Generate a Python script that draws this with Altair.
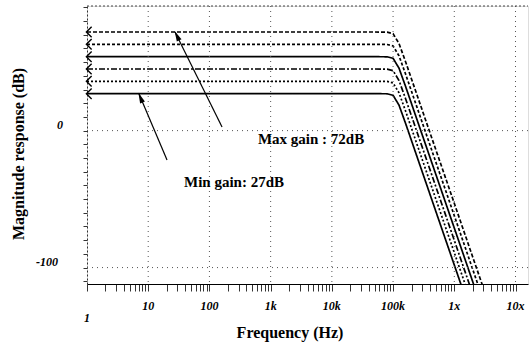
import altair as alt
import pandas as pd

# ---- data ----
freqs = [1, 5e4, 8e4, 1e5, 1.25e5, 1.6e5, 2e5, 3e5, 5e5, 1e6, 2e6, 4e6]
gain_72 = [72, 72, 71.9, 70.8, 63.6, 50.3, 37.7, 14.8, -14.0, -53.1, -92.3, -131.4]
gain_63 = [63, 63, 62.9, 61.8, 54.6, 41.3, 28.7, 5.8, -23.0, -62.1, -101.3, -140.4]
gain_54 = [54, 54, 53.9, 52.8, 45.6, 32.3, 19.7, -3.2, -32.0, -71.1, -110.3, -149.4]
gain_45 = [45, 45, 44.9, 43.8, 36.6, 23.3, 10.7, -12.2, -41.0, -80.1, -119.3, -158.4]
gain_36 = [36, 36, 35.9, 34.8, 27.6, 14.3, 1.7, -21.2, -50.0, -89.1, -128.3, -167.4]
gain_27 = [27, 27, 26.9, 25.8, 18.6, 5.3, -7.3, -30.2, -59.0, -98.1, -137.3, -176.4]
series_names = ["72", "63", "54", "45", "36", "27"]
series_gains = [72, 63, 54, 45, 36, 27]

decades = [1, 10, 100, 1e3, 1e4, 1e5, 1e6, 1e7]
decade_labels = ["1", "10", "100", "1k", "10k", "100k", "1x", "10x"]
y_ticks = list(range(-110, 91, 10))
y_label_values = [0, -100]
y_label_texts = ["0", "-100"]

ann_texts = ["Max gain : 72dB", "Min gain: 27dB"]
ann_freq = [4570, 252]
ann_mag = [-6.2, -37.6]

arrow_tail_f = [160.7, 20.3]
arrow_tail_m = [2.6, -21.5]
arrow_head_f = [27.4, 7.08]
arrow_head_m = [72.0, 26.7]
arrowhead_f = [30.1, 7.63]
arrowhead_m = [68.4, 23.1]
arrowhead_angle = [334, 337]

# ---- tables ----
rows = []
for name, vals in zip(series_names, [gain_72, gain_63, gain_54, gain_45, gain_36, gain_27]):
    for f, v in zip(freqs, vals):
        rows.append({"freq": f, "mag": v, "series": name})
df = pd.DataFrame(rows)

minor_ticks = [d * k for d in decades for k in range(1, 10) if d * k <= 1.6e7]

W, H = 441, 278
xscale = alt.Scale(type="log", domain=[1, 1.6e7], nice=False)
yscale = alt.Scale(domain=[-112, 91], nice=False, zero=False)
SERIF = "Liberation Serif"

XAXIS = alt.Axis(values=minor_ticks, labels=False, tickSize=7, tickColor="#333",
                 domainColor="black", domainWidth=1.2, grid=False, title=None)
YAXIS = alt.Axis(values=y_ticks, labels=False, tickSize=4, tickColor="#333",
                 domainDash=[2, 2], domainColor="#333", grid=False, title=None)


def X(field):
    return alt.X(field, scale=xscale, axis=XAXIS)


def Y(field):
    return alt.Y(field, scale=yscale, axis=YAXIS)


dash_range = [[4, 2], [3, 2], [1, 0], [6, 2, 2, 2], [2, 2], [1, 0]]
width_range = [1.7, 1.7, 1.7, 1.7, 1.7, 2.3]

lines = alt.Chart(df).mark_line(clip=True, color="black").encode(
    x=X("freq:Q"),
    y=Y("mag:Q"),
    strokeDash=alt.StrokeDash("series:N", scale=alt.Scale(domain=series_names, range=dash_range), legend=None),
    strokeWidth=alt.StrokeWidth("series:N", scale=alt.Scale(domain=series_names, range=width_range), legend=None),
    detail="series:N",
)

start_df = pd.DataFrame({"freq": [1.1] * len(series_gains), "mag": series_gains})
chevrons = alt.Chart(start_df).mark_point(
    shape="M0.4,-1L-0.6,0L0.4,1", filled=False, size=110, color="black", strokeWidth=1.4, opacity=1
).encode(x=X("freq:Q"), y=Y("mag:Q"))

vgrid = alt.Chart(pd.DataFrame({"freq": decades[1:]})).mark_rule(
    color="#555", strokeDash=[1, 4], strokeWidth=1
).encode(x=X("freq:Q"))

hgrid = alt.Chart(pd.DataFrame({"mag": y_label_values})).mark_rule(
    color="#555", strokeDash=[1, 4], strokeWidth=1
).encode(y=Y("mag:Q"))

top_border = alt.Chart(pd.DataFrame({"a": [0]})).mark_rule(
    color="#444", strokeDash=[2, 2], strokeWidth=1
).encode(x=alt.value(0), x2=alt.value(W), y=alt.value(0))

xlab_df = pd.DataFrame({"freq": decades, "label": decade_labels})
xlabels_main = alt.Chart(xlab_df[xlab_df["label"] != "1"]).mark_text(
    font=SERIF, fontStyle="italic", fontWeight="bold", fontSize=12, color="black", baseline="middle"
).encode(x=X("freq:Q"), y=alt.value(H + 22), text="label:N")
xlabels_one = alt.Chart(xlab_df[xlab_df["label"] == "1"]).mark_text(
    font=SERIF, fontStyle="italic", fontWeight="bold", fontSize=12, color="black", baseline="middle"
).encode(x=X("freq:Q"), y=alt.value(H + 34), text="label:N")

ylab_df = pd.DataFrame({"mag": y_label_values, "label": y_label_texts})
ylab0 = alt.Chart(ylab_df[ylab_df["label"] == "0"]).mark_text(
    font=SERIF, fontStyle="italic", fontWeight="bold", fontSize=12, color="black",
    align="right", baseline="middle", dy=-6
).encode(x=alt.value(-24), y=Y("mag:Q"), text="label:N")
ylab100 = alt.Chart(ylab_df[ylab_df["label"] == "-100"]).mark_text(
    font=SERIF, fontStyle="italic", fontWeight="bold", fontSize=12, color="black",
    align="right", baseline="middle", dy=-6
).encode(x=alt.value(-29), y=Y("mag:Q"), text="label:N")

xtitle = alt.Chart(pd.DataFrame({"t": ["Frequency (Hz)"]})).mark_text(
    font=SERIF, fontWeight="bold", fontSize=16, color="black", baseline="middle"
).encode(x=alt.value(203), y=alt.value(327), text="t:N")
ytitle = alt.Chart(pd.DataFrame({"t": ["Magnitude response (dB)"]})).mark_text(
    font=SERIF, fontWeight="bold", fontSize=16, color="black", baseline="middle", angle=270
).encode(x=alt.value(-68), y=alt.value(148), text="t:N")

ann_df = pd.DataFrame({"freq": ann_freq, "mag": ann_mag, "t": ann_texts})
annotations = alt.Chart(ann_df).mark_text(
    font=SERIF, fontWeight="bold", fontSize=15, color="black", baseline="middle"
).encode(x=X("freq:Q"), y=Y("mag:Q"), text="t:N")

arrow_df = pd.DataFrame({"freq": arrow_tail_f, "mag": arrow_tail_m, "f2": arrow_head_f, "m2": arrow_head_m})
arrow_lines = alt.Chart(arrow_df).mark_rule(color="black", strokeWidth=1.2).encode(
    x=X("freq:Q"), y=Y("mag:Q"), x2="f2:Q", y2="m2:Q",
)
head_df = pd.DataFrame({"freq": arrowhead_f, "mag": arrowhead_m, "ang": arrowhead_angle})
arrow_heads = alt.Chart(head_df).mark_point(
    shape="M0,-1.4L0.55,0.8L-0.55,0.8Z", filled=True, size=90, color="black", opacity=1
).encode(x=X("freq:Q"), y=Y("mag:Q"), angle=alt.Angle("ang:Q", scale=None))

chart = alt.layer(
    lines, vgrid, hgrid, top_border, chevrons, arrow_lines, arrow_heads, annotations,
    xlabels_main, xlabels_one, ylab0, ylab100, xtitle, ytitle,
).properties(
    width=W, height=H, autosize="none",
    padding={"left": 87, "top": 6, "right": 1, "bottom": 63},
).configure_view(stroke=None).configure(background="white")

chart.save("out.html", embed_options={"renderer": "svg", "actions": False})
